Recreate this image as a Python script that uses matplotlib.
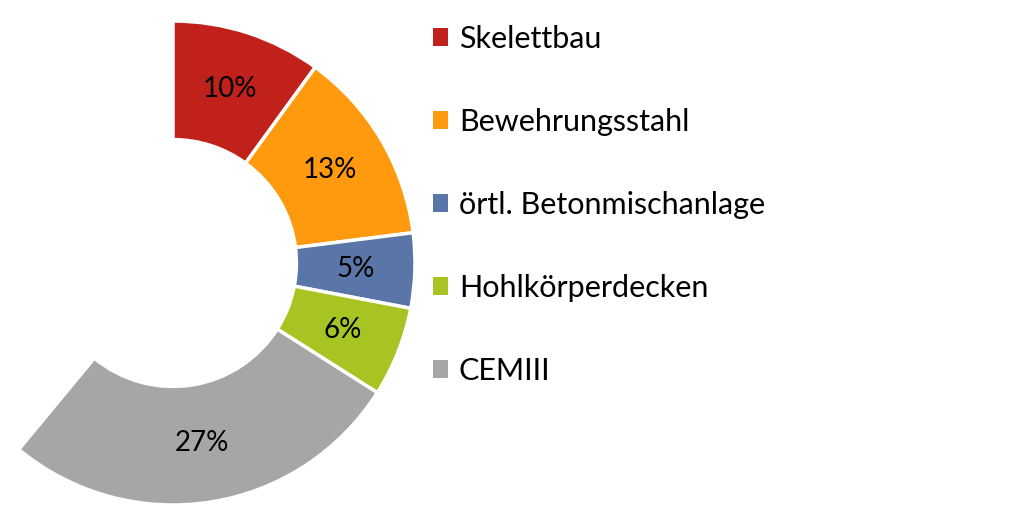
import numpy as np
import matplotlib
matplotlib.use("Agg")
import matplotlib.pyplot as plt

categories = ["Skelettbau", "Bewehrungsstahl", "örtl. Betonmischanlage",
              "Hohlkörperdecken", "CEMIII"]
shares = [10, 13, 5, 6, 27]
rest = 100 - sum(shares)  # unlabelled remainder, left blank
labels = ["10%", "13%", "5%", "6%", "27%"]
colors = ["#c0211a", "#ff9a0e", "#5a76a8", "#a8c423", "#a6a6a6"]

plt.rcParams["font.family"] = ["Lato", "DejaVu Sans"]

fig = plt.figure(figsize=(10.22, 5.25), dpi=100)
# donut centre sits near the left edge; part of the axes lies off-canvas
ax = fig.add_axes([-69 / 1022, 20 / 525, 484 / 1022, 484 / 525])

wedges, _ = ax.pie(
    shares + [rest],
    colors=colors + ["none"],
    startangle=90,
    counterclock=False,
    radius=1.0,
    wedgeprops=dict(width=0.49, edgecolor="white", linewidth=2.5),
)
wedges[-1].set_edgecolor("none")
ax.set_xlim(-1, 1)
ax.set_ylim(-1, 1)
ax.set_aspect("equal")
ax.axis("off")

r_mid = 1 - 0.49 / 2
for w, lab in zip(wedges[:-1], labels):
    ang = np.deg2rad((w.theta1 + w.theta2) / 2)
    ax.text(r_mid * np.cos(ang), r_mid * np.sin(ang), lab,
            ha="center", va="center", fontsize=20, color="black")

leg = fig.legend(
    wedges[:-1], categories,
    loc="upper left",
    bbox_to_anchor=(433 / 1022, 1 - 25 / 525),
    frameon=False,
    fontsize=22,
    borderpad=0,
    borderaxespad=0,
    handlelength=0.5,
    handleheight=0.5,
    handletextpad=0.35,
    labelspacing=1.8,
)
for h in leg.legend_handles:
    h.set_edgecolor("none")

fig.savefig("out.png", dpi=100, facecolor="white")
